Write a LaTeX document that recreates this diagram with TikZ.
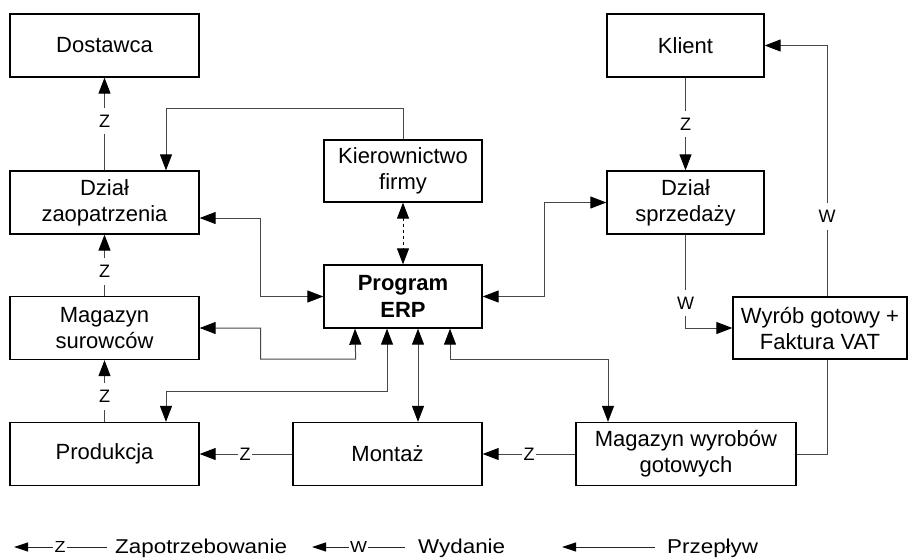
\documentclass[tikz,border=0pt]{standalone}
\usepackage{fontspec}
\setmainfont{Liberation Sans}
\newfontfamily\legfont[FakeStretch=1.12]{Liberation Sans}
\usetikzlibrary{arrows.meta}
\begin{document}
\begin{tikzpicture}[x=1pt,y=-1pt,
  box/.style={draw=black, line width=1.3pt, minimum height=63pt, align=center, inner sep=0pt,
    font=\fontsize{22}{26}\selectfont},
  conn/.style={draw=black!72, line width=1pt},
  tip/.style={-{Triangle[length=16pt,width=12pt,black]}},
  both/.style={{Triangle[length=16pt,width=12pt,black]}-{Triangle[length=16pt,width=12pt,black]}},
  lab/.style={fill=white, inner xsep=1.5pt, inner ysep=7pt, font=\fontsize{18}{18}\selectfont, text=black},
  lab2/.style={fill=white, inner xsep=1.5pt, inner ysep=3pt, font=\legfont\fontsize{16}{16}\selectfont, text=black},
  legtext/.style={anchor=base west, inner sep=0pt, font=\legfont\fontsize{20}{20}\selectfont},
  legtip/.style={-{Triangle[length=14pt,width=9pt,black]}}
]
\useasboundingbox (0,0) rectangle (909,558);
% boxes
\node[box, minimum width=189pt] (dost) at (104.5,45.5) {Dostawca};
\node[box, minimum width=189pt] (zaop) at (104.5,202.5) {Dział\\zaopatrzenia};
\node[box, minimum width=189pt] (mag) at (104.5,328) {Magazyn\\surowców};
\node[box, minimum width=189pt] (prod) at (104.5,454) {Produkcja};
\node[box, minimum width=158pt, minimum height=62pt] (kier) at (403,171) {Kierownictwo\\firmy};
\node[box, minimum width=158pt, font=\fontsize{22}{27}\selectfont\bfseries] (erp) at (403,296.5) {Program\\ERP};
\node[box, minimum width=189pt] (mont) at (387.5,454) {Montaż};
\node[box, minimum width=157pt] (klient) at (685.5,45.5) {Klient};
\node[box, minimum width=157pt] (sprz) at (685.5,202.5) {Dział\\sprzedaży};
\node[box, minimum width=174pt, minimum height=62pt] (wyrob) at (820,328) {Wyrób gotowy +\\Faktura VAT};
\node[box, minimum width=220pt] (magw) at (686,454) {Magazyn wyrobów\\gotowych};
% Z connectors
\draw[conn, tip] (zaop) -- node[lab, pos=0.53] {Z} (dost);
\draw[conn, tip] (mag) -- node[lab, pos=0.4] {Z} (zaop);
\draw[conn, tip] (prod) -- node[lab, pos=0.41] {Z} (mag);
\draw[conn, tip] (klient) -- node[lab, pos=0.5] {Z} (sprz);
\draw[conn, tip] (magw) -- node[lab, pos=0.5] {Z} (mont);
\draw[conn, tip] (mont) -- node[lab, pos=0.51] {Z} (prod);
% W connectors
\draw[conn, tip] (sprz.south) |- node[lab, pos=0.367] {W} (wyrob.west);
\draw[conn, tip] ([xshift=7pt]wyrob.north) |- node[lab, pos=0.159] {W} (klient.east);
\draw[conn] (magw.east) -| ([xshift=7pt]wyrob.south);
% management
\draw[conn, tip] (kier.north) -- ++(0,-31) -| ([xshift=61.5pt]zaop.north);
\draw[draw=black, line width=1pt, dashed, both] (kier) -- (erp);
% ERP flows
\draw[conn, both] (erp.west) -- ++(-63,0) |- ([yshift=-15.5pt]zaop.east);
\draw[conn, both] (mag.east) -- ++(61,0) |- ++(95,31) -- ([xshift=-48pt]erp.south);
\draw[conn, both] ([xshift=-16pt]erp.south) -- ++(0,63) -| ([xshift=61.5pt]prod.north);
\draw[conn, both] ([xshift=15pt]erp.south) -- ([xshift=15pt]erp.south |- mont.north);
\draw[conn, both] ([xshift=47pt]erp.south) -- ++(0,31) -| ([xshift=-78pt]magw.north);
\draw[conn, both] (erp.east) -- ++(62,0) |- (sprz.west);
% legend
\coordinate (l1a) at (107,547); \coordinate (l1b) at (14,547);
\coordinate (l2a) at (405,547); \coordinate (l2b) at (312,547);
\coordinate (l3a) at (655,547); \coordinate (l3b) at (562,547);
\draw[conn, draw=black!85, legtip] (l1a) -- node[lab2, pos=0.505] {Z} (l1b);
\draw[conn, draw=black!85, legtip] (l2a) -- node[lab2, pos=0.5] {W} (l2b);
\draw[conn, draw=black!85, legtip] (l3a) -- (l3b);
\node[legtext] (t1) at (115,553) {Zapotrzebowanie};
\node[legtext] (t2) at (418,553) {Wydanie};
\node[legtext] (t3) at (667,553) {Przepływ};
\end{tikzpicture}
\end{document}
